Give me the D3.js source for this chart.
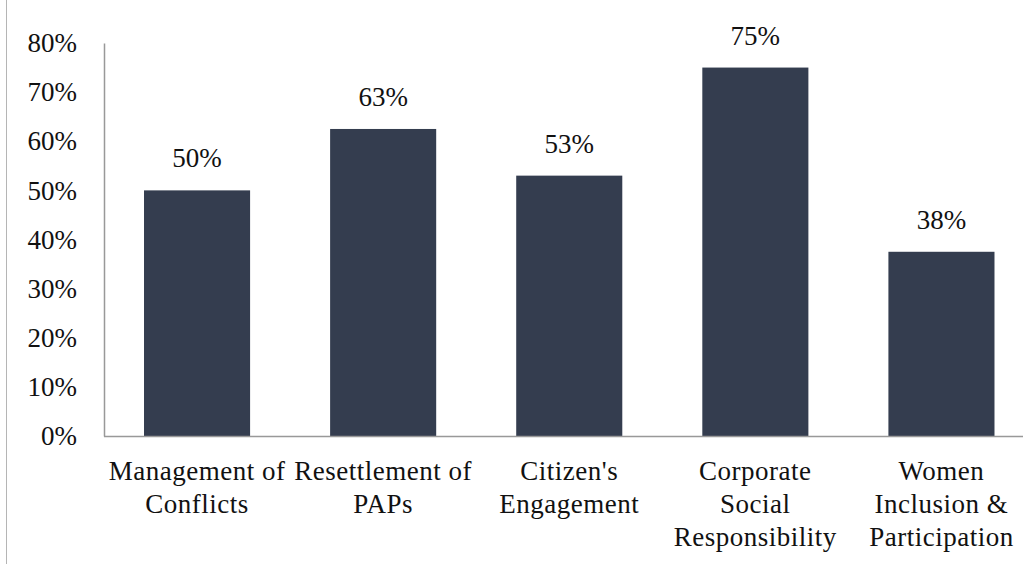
<!DOCTYPE html>
<html>
<head>
<meta charset="utf-8">
<script src="https://cdn.jsdelivr.net/npm/d3@7"></script>
<style>
  html, body { margin: 0; padding: 0; background: #fff; }
  svg { display: block; }
</style>
</head>
<body>
<svg id="chart" width="1023" height="564"></svg>
<script>
const categories = ["Management of Conflicts", "Resettlement of PAPs", "Citizen's Engagement", "Corporate Social Responsibility", "Women Inclusion & Participation"];
const categoryLines = [
  ["Management of", "Conflicts"],
  ["Resettlement of", "PAPs"],
  ["Citizen's", "Engagement"],
  ["Corporate", "Social", "Responsibility"],
  ["Women", "Inclusion &", "Participation"]
];
const values = [0.50, 0.625, 0.53, 0.75, 0.375];
const valueLabels = ["50%", "63%", "53%", "75%", "38%"];
const yTicks = [0, 0.1, 0.2, 0.3, 0.4, 0.5, 0.6, 0.7, 0.8];

const FONT = "'Liberation Serif', 'Times New Roman', serif";
const svg = d3.select("#chart");
const left = 104, baseY = 436, topY = 43;
const step = 186.1;

const x = d3.scaleBand().domain(categories).range([left, left + 5 * step]).paddingInner(0.43).paddingOuter(0.215);
const y = d3.scaleLinear().domain([0, 0.8]).range([baseY, topY]);

// left frame line
svg.append("line").attr("x1", 6.5).attr("x2", 6.5).attr("y1", 0).attr("y2", 564)
  .attr("stroke", "#b5b5b5").attr("stroke-width", 1);

// bars
svg.selectAll("rect.bar").data(values).join("rect")
  .attr("class", "bar")
  .attr("x", (d, i) => x(categories[i]))
  .attr("width", x.bandwidth())
  .attr("y", d => y(d))
  .attr("height", d => baseY - y(d))
  .attr("fill", "#343d4f");

// y axis
const yAxis = d3.axisLeft(y).tickValues(yTicks).tickFormat(d3.format(".0%")).tickSize(0).tickPadding(27);
const gy = svg.append("g").attr("transform", `translate(${left},0)`).call(yAxis)
  .attr("font-family", FONT).attr("font-size", 27);
gy.select(".domain").attr("stroke", "#999").attr("stroke-width", 1.5);
gy.selectAll("text").attr("fill", "#111").style("font-family", FONT).style("font-size", "27px");

// baseline (x axis)
svg.append("line").attr("x1", left).attr("x2", 1023).attr("y1", baseY + 0.5).attr("y2", baseY + 0.5)
  .attr("stroke", "#999").attr("stroke-width", 1.5);

// value labels
svg.selectAll("text.val").data(values).join("text")
  .attr("class", "val")
  .attr("x", (d, i) => x(categories[i]) + x.bandwidth() / 2)
  .attr("y", d => y(d) - 23)
  .attr("text-anchor", "middle")
  .attr("fill", "#111")
  .style("font-family", FONT)
  .style("font-size", "27px")
  .text((d, i) => valueLabels[i]);

// category labels
const cat = svg.selectAll("text.cat").data(categories).join("text")
  .attr("class", "cat")
  .attr("text-anchor", "middle")
  .attr("fill", "#111")
  .style("font-family", FONT)
  .style("font-size", "27px")
  .style("letter-spacing", "0.5px");
cat.each(function(c, i) {
  const t = d3.select(this);
  categoryLines[i].forEach((line, j) => {
    t.append("tspan")
      .attr("x", x(c) + x.bandwidth() / 2)
      .attr("y", 480 + j * 33)
      .text(line);
  });
});
</script>
</body>
</html>
